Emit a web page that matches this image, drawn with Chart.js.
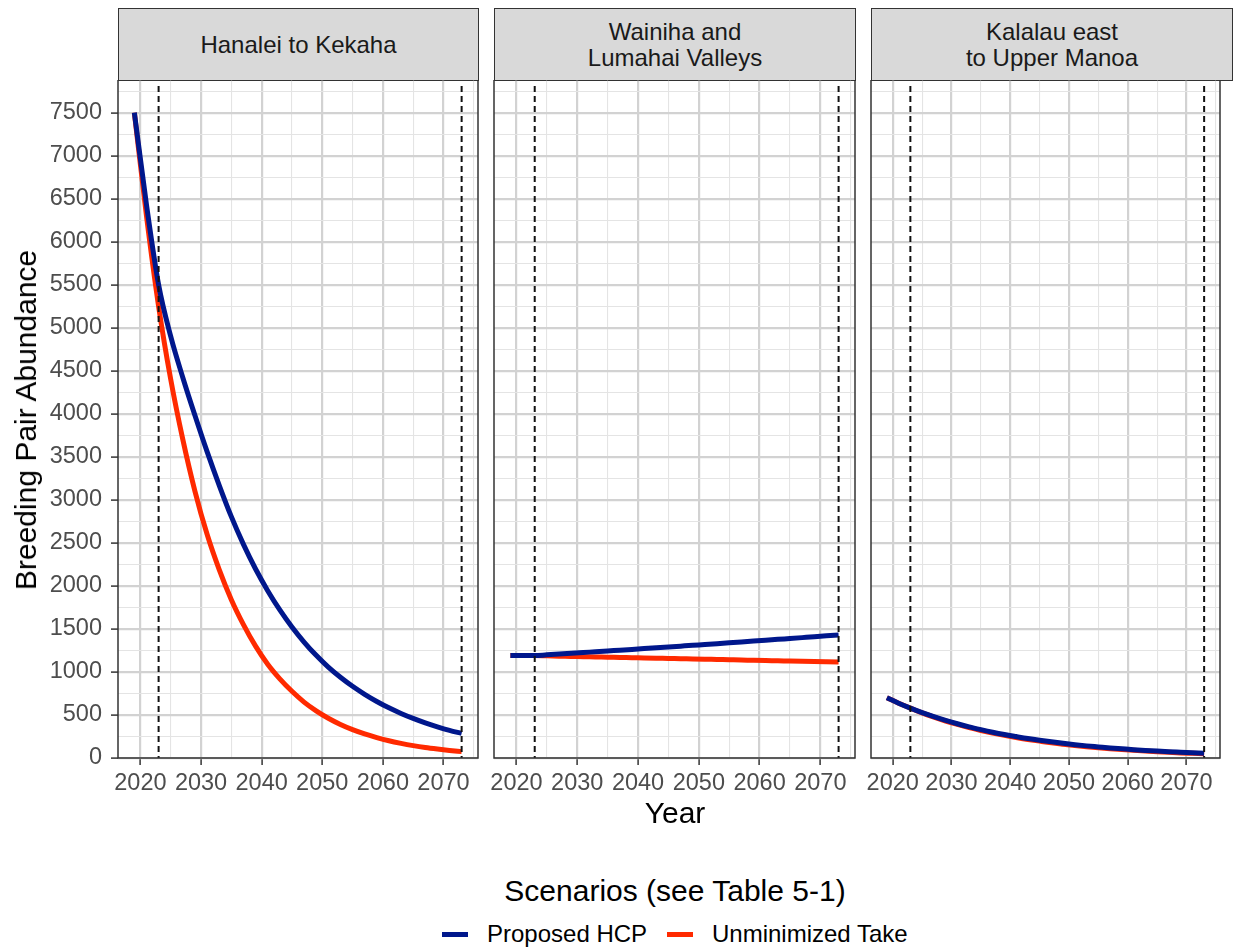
<!DOCTYPE html>
<html>
<head>
  <meta charset="utf-8">
  <title>Breeding Pair Abundance by Scenario</title>
  <script src="https://cdn.jsdelivr.net/npm/chart.js"></script>
  <style>
    body { margin: 0; background: #fff; font-family: "Liberation Sans", Arial, sans-serif; }
    #page { position: relative; width: 1236px; height: 950px; overflow: hidden; }
    .strip {
      position: absolute; top: 8px; height: 73px; box-sizing: border-box;
      background: #d9d9d9; border: 1.5px solid #333; color: #1a1a1a;
      display: flex; align-items: center; justify-content: center; text-align: center;
      font-size: 24px; line-height: 26px;
    }
    canvas.panel { position: absolute; top: 80px; }
    .label { position: absolute; white-space: nowrap; transform: translate(-50%, -50%); color: #000; }
    .axis-title { font-size: 30px; line-height: 30px; }
    .legend-key { position: absolute; height: 5px; width: 26px; top: 932px; }
    .legend-text { position: absolute; top: 922px; font-size: 24px; line-height: 24px; color: #000; white-space: nowrap; }
  </style>
</head>
<body>
<div id="page">
  <div class="strip" style="left:118px; width:361px;">Hanalei to Kekaha</div>
  <div class="strip" style="left:494px; width:362px;">Wainiha and<br>Lumahai Valleys</div>
  <div class="strip" style="left:871px; width:362px;">Kalalau east<br>to Upper Manoa</div>

  <canvas id="p1" class="panel" width="480" height="720" style="left:0px;"></canvas>
  <canvas id="p2" class="panel" width="385" height="720" style="left:482px;"></canvas>
  <canvas id="p3" class="panel" width="365" height="720" style="left:859px;"></canvas>

  <div class="label axis-title" style="left:26px; top:420px; transform: translate(-50%, -50%) rotate(-90deg);">Breeding Pair Abundance</div>
  <div class="label axis-title" style="left:675px; top:813px;">Year</div>
  <div class="label axis-title" style="left:675px; top:891px;">Scenarios (see Table 5-1)</div>

  <div class="legend-key" style="left:442px; background:#00178c;"></div>
  <div class="legend-text" style="left:487px;">Proposed HCP</div>
  <div class="legend-key" style="left:667px; background:#ff2a00;"></div>
  <div class="legend-text" style="left:712px;">Unminimized Take</div>
</div>

<script>
  // years read every two years, 2019 - 2073
  const years = [2019, 2021, 2023, 2025, 2027, 2029, 2031, 2033, 2035, 2037,
                 2039, 2041, 2043, 2045, 2047, 2049, 2051, 2053, 2055, 2057,
                 2059, 2061, 2063, 2065, 2067, 2069, 2071, 2073];

  const hanaleiHCP = [7500, 6430, 5500, 4900, 4420, 3980, 3560, 3170, 2805, 2483,
                      2197, 1945, 1721, 1523, 1348, 1193, 1056, 938, 833, 740,
                      657, 583, 518, 460, 408, 363, 322, 286];
  const hanaleiUnmin = [7500, 6300, 5250, 4400, 3700, 3100, 2600, 2190, 1840, 1550,
                        1300, 1090, 920, 775, 650, 548, 462, 390, 330, 280,
                        237, 200, 170, 144, 122, 104, 88, 74];

  const wainihaHCP = [1190, 1190, 1190, 1199, 1208, 1217, 1226, 1235, 1244, 1253,
                      1262, 1272, 1281, 1290, 1300, 1310, 1319, 1329, 1339, 1349,
                      1359, 1369, 1379, 1389, 1399, 1409, 1420, 1430];
  const wainihaUnmin = [1190, 1190, 1190, 1187, 1184, 1181, 1178, 1175, 1172, 1169,
                        1166, 1163, 1160, 1157, 1154, 1151, 1148, 1145, 1142, 1139,
                        1136, 1133, 1130, 1127, 1124, 1121, 1118, 1115];

  const kalalauHCP = [700, 637, 580, 528, 481, 437, 398, 362, 330, 300,
                      273, 249, 226, 206, 188, 171, 155, 141, 129, 117,
                      107, 97, 88, 80, 73, 67, 61, 55];
  const kalalauUnmin = [700, 637, 580, 524, 475, 430, 390, 353, 320, 290,
                        263, 238, 216, 196, 177, 161, 146, 132, 119, 108,
                        98, 89, 80, 73, 66, 59, 54, 49];

  const markerYears = [2023, 2073];   // dashed reference lines

  const blue = '#00178c';
  const red = '#ff2a00';
  const font = "'Liberation Sans', Arial, sans-serif";

  const isMajorX = v => Math.abs(v % 10) < 1e-6;
  const isMajorY = v => Math.abs(v % 500) < 1e-6;
  const toPoints = vals => years.map((yr, i) => ({ x: yr, y: vals[i] }));

  function gridOpts(isMajor, drawTicks) {
    return {
      color: c => (c.tick && isMajor(c.tick.value)) ? '#d2d2d2' : '#e4e4e4',
      lineWidth: c => (c.tick && isMajor(c.tick.value)) ? 2.2 : 1.1,
      tickColor: c => (c.tick && isMajor(c.tick.value)) ? '#333' : 'rgba(0,0,0,0)',
      tickWidth: 1.5,
      tickLength: 7,
      drawTicks: drawTicks
    };
  }

  const panelDecor = {
    id: 'panelDecor',
    afterDatasetsDraw(chart) {
      const { ctx, chartArea: a, scales: { x } } = chart;
      ctx.save();
      ctx.strokeStyle = '#111';
      ctx.lineWidth = 2;
      ctx.setLineDash([6, 4]);
      markerYears.forEach(yr => {
        const px = x.getPixelForValue(yr);
        ctx.beginPath();
        ctx.moveTo(px, a.top + 6);
        ctx.lineTo(px, a.bottom);
        ctx.stroke();
      });
      ctx.setLineDash([]);
      ctx.strokeStyle = '#333';
      ctx.lineWidth = 1.5;
      ctx.strokeRect(a.left, a.top, a.right - a.left, a.bottom - a.top);
      ctx.restore();
    }
  };

  function makePanel(id, hcp, unmin, showY, padLeft, padRight) {
    return new Chart(document.getElementById(id), {
      type: 'line',
      data: {
        datasets: [
          { label: 'Proposed HCP', data: toPoints(hcp), borderColor: blue, borderWidth: 5,
            pointRadius: 0, cubicInterpolationMode: 'monotone', borderCapStyle: 'butt' },
          { label: 'Unminimized Take', data: toPoints(unmin), borderColor: red, borderWidth: 5,
            pointRadius: 0, cubicInterpolationMode: 'monotone', borderCapStyle: 'butt' }
        ]
      },
      options: {
        responsive: false,
        animation: false,
        layout: { padding: { left: padLeft, right: padRight, top: 0, bottom: 0 } },
        plugins: { legend: { display: false }, tooltip: { enabled: false } },
        scales: {
          x: {
            type: 'linear', min: 2016.3, max: 2075.7,
            ticks: {
              stepSize: 5, includeBounds: false, autoSkip: false, maxRotation: 0, padding: 4,
              color: '#4d4d4d', font: { size: 23.5, family: font },
              callback: v => isMajorX(v) ? String(v) : ''
            },
            grid: gridOpts(isMajorX, true),
            border: { display: false },
            afterFit: s => { s.height = 42; s.paddingLeft = 0; s.paddingRight = 0; }
          },
          y: {
            type: 'linear', min: 0, max: 7880,
            ticks: {
              display: showY, stepSize: 250, includeBounds: false, autoSkip: false, padding: 9,
              color: '#4d4d4d', font: { size: 23.5, family: font },
              callback: v => isMajorY(v) ? String(v) : ''
            },
            grid: gridOpts(isMajorY, showY),
            border: { display: false },
            afterFit: s => { s.width = showY ? 118 : 0; s.paddingTop = 0; s.paddingBottom = 0; }
          }
        }
      },
      plugins: [panelDecor]
    });
  }

  makePanel('p1', hanaleiHCP, hanaleiUnmin, true, 0, 2);
  makePanel('p2', wainihaHCP, wainihaUnmin, false, 12, 12);
  makePanel('p3', kalalauHCP, kalalauUnmin, false, 12, 4);
</script>
</body>
</html>
